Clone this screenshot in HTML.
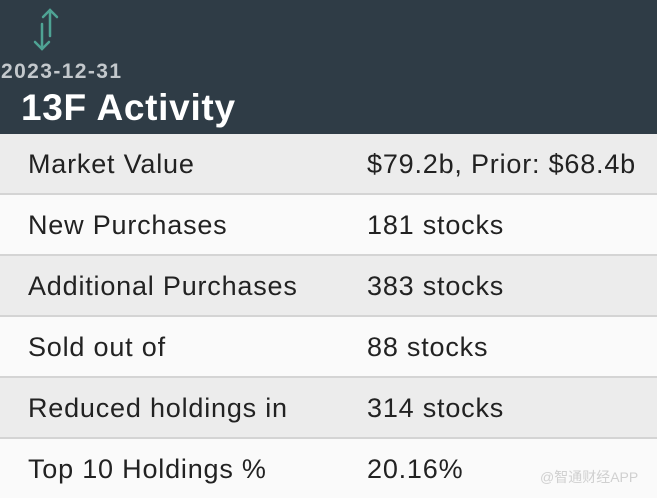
<!DOCTYPE html>
<html><head><meta charset="utf-8"><style>
body{margin:0;width:657px;height:497px;overflow:hidden;background:#fafafa;font-family:"Liberation Sans","Noto Sans CJK SC",sans-serif;}
.hdr{position:absolute;left:0;top:0;width:657px;height:134px;background:#2f3c46;}
.date{position:absolute;left:1px;top:60px;font-size:21px;font-weight:bold;color:#c3c8cc;letter-spacing:1.4px;}
.title{position:absolute;left:21px;top:87px;font-size:37px;font-weight:bold;color:#fff;letter-spacing:0.7px;}
.row{position:absolute;left:0;width:657px;height:59px;border-bottom:2px solid #d4d4d4;font-size:27px;letter-spacing:0.8px;color:#222;}
.row span{position:absolute;top:15px;}
.a{left:28px}.b{left:367px}
.g{background:#ececec}.w{background:#fafafa}
.wm{position:absolute;left:540px;top:467px;font-size:14px;color:#d0d0d0;}
</style></head><body>
<div class="hdr">
<svg style="position:absolute;left:30px;top:6px" width="34" height="48" viewBox="0 0 34 48">
<g stroke="#4fa394" stroke-width="2.5" fill="none" stroke-linecap="round">
<line x1="20" y1="4" x2="20" y2="30"/><polyline points="13,11 20,4 27,11"/>
<line x1="12" y1="18" x2="12" y2="43"/><polyline points="5,36 12,43 19,36"/>
</g></svg>
<div class="date">2023-12-31</div>
<div class="title">13F Activity</div>
</div>
<div class="row g" style="top:134px"><span class="a">Market Value</span><span class="b">$79.2b, Prior: $68.4b</span></div>
<div class="row w" style="top:195px"><span class="a">New Purchases</span><span class="b">181 stocks</span></div>
<div class="row g" style="top:256px"><span class="a">Additional Purchases</span><span class="b">383 stocks</span></div>
<div class="row w" style="top:317px"><span class="a">Sold out of</span><span class="b">88 stocks</span></div>
<div class="row g" style="top:378px"><span class="a">Reduced holdings in</span><span class="b">314 stocks</span></div>
<div class="row w" style="top:439px;border:none"><span class="a">Top 10 Holdings %</span><span class="b">20.16%</span></div>
<div class="wm">@智通财经APP</div>
</body></html>
